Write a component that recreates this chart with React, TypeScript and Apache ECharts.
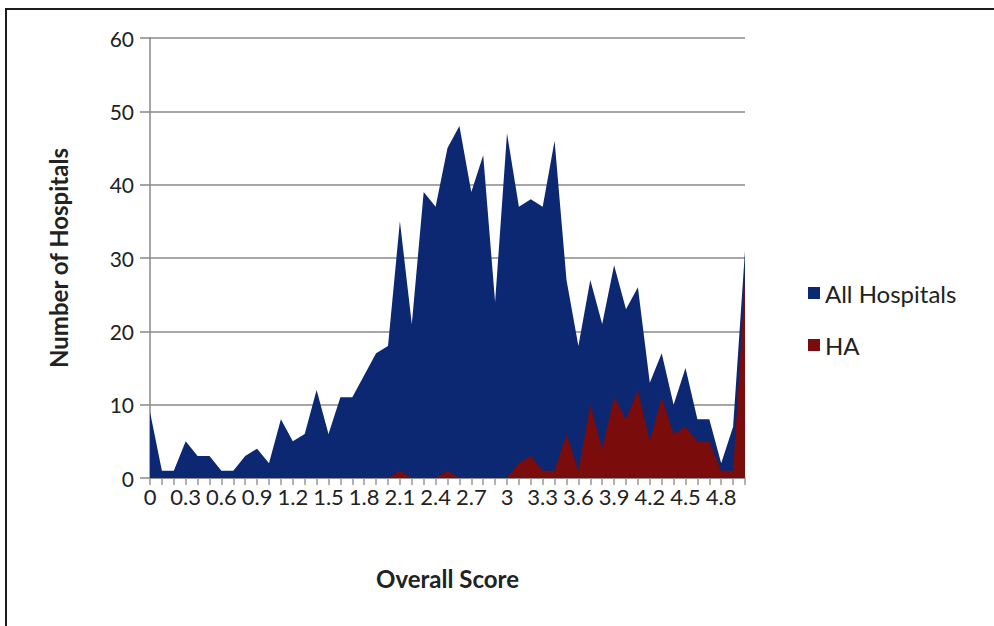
import React, { useEffect, useRef } from "react";
import * as echarts from "echarts";

const categories = [
  "0", "0.1", "0.2", "0.3", "0.4", "0.5", "0.6", "0.7", "0.8", "0.9",
  "1", "1.1", "1.2", "1.3", "1.4", "1.5", "1.6", "1.7", "1.8", "1.9",
  "2", "2.1", "2.2", "2.3", "2.4", "2.5", "2.6", "2.7", "2.8", "2.9",
  "3", "3.1", "3.2", "3.3", "3.4", "3.5", "3.6", "3.7", "3.8", "3.9",
  "4", "4.1", "4.2", "4.3", "4.4", "4.5", "4.6", "4.7", "4.8", "4.9",
  "5",
];

const allHospitals = [
  9, 1, 1, 5, 3, 3, 1, 1, 3, 4,
  2, 8, 5, 6, 12, 6, 11, 11, 14, 17,
  18, 35, 21, 39, 37, 45, 48, 39, 44, 24,
  47, 37, 38, 37, 46, 27, 18, 27, 21, 29,
  23, 26, 13, 17, 10, 15, 8, 8, 2, 7,
  31,
];

const ha = [
  0, 0, 0, 0, 0, 0, 0, 0, 0, 0,
  0, 0, 0, 0, 0, 0, 0, 0, 0, 0,
  0, 1, 0, 0, 0, 1, 0, 0, 0, 0,
  0, 2, 3, 1, 1, 6, 1, 10, 4, 11,
  8, 12, 5, 11, 6, 7, 5, 5, 1, 1,
  27,
];

const FONT = "Lato, 'Open Sans', sans-serif";

export default function App() {
  const ref = useRef<HTMLDivElement>(null);

  useEffect(() => {
    document.body.style.margin = "0";
    const chart = echarts.init(ref.current!, null, { renderer: "svg" });
    chart.setOption({
      animation: false,
      backgroundColor: "#ffffff",
      textStyle: { fontFamily: FONT },
      graphic: [
        {
          type: "rect",
          shape: { x: 6, y: 9, width: 1100, height: 700 },
          style: { fill: "none", stroke: "#1c1c1c", lineWidth: 2 },
          silent: true,
        },
      ],
      legend: {
        orient: "vertical",
        left: 803,
        top: 276,
        itemGap: 28,
        itemWidth: 12,
        itemHeight: 12,
        icon: "rect",
        textStyle: { fontSize: 24, color: "#222", fontFamily: FONT },
        data: ["All Hospitals", "HA"],
      },
      grid: { left: 150, right: 249, top: 38, bottom: 148 },
      xAxis: {
        type: "category",
        data: categories,
        boundaryGap: false,
        name: "Overall Score",
        nameLocation: "middle",
        nameGap: 88,
        nameTextStyle: { fontSize: 24, fontWeight: "bold", color: "#222", fontFamily: FONT },
        axisLine: { show: true, lineStyle: { color: "#888", width: 1.5 } },
        axisTick: { show: true, interval: 0, length: 7, lineStyle: { color: "#999", width: 1.5 } },
        axisLabel: { interval: 2, fontSize: 22, color: "#222", margin: 7, fontFamily: FONT },
        splitLine: { show: false },
      },
      yAxis: {
        type: "value",
        min: 0,
        max: 60,
        interval: 10,
        name: "Number of Hospitals",
        nameLocation: "middle",
        nameGap: 80,
        nameTextStyle: { fontSize: 24, fontWeight: "bold", color: "#222", fontFamily: FONT },
        axisLine: { show: true, lineStyle: { color: "#888", width: 1.5 } },
        axisTick: { show: true, length: 10, inside: false, lineStyle: { color: "#888", width: 1.5 } },
        axisLabel: { fontSize: 21, color: "#222", margin: 16, fontFamily: FONT },
        splitLine: { show: true, lineStyle: { color: "#8a8a8a", width: 1.5 } },
      },
      series: [
        {
          name: "All Hospitals",
          type: "line",
          data: allHospitals,
          showSymbol: false,
          symbol: "none",
          itemStyle: { color: "#0c2873" },
          lineStyle: { width: 0, color: "#0c2873" },
          areaStyle: { color: "#0c2873", opacity: 1 },
          z: 2,
        },
        {
          name: "HA",
          type: "line",
          data: ha,
          showSymbol: false,
          symbol: "none",
          itemStyle: { color: "#7a0c0c" },
          lineStyle: { width: 0, color: "#7a0c0c" },
          areaStyle: { color: "#7a0c0c", opacity: 1 },
          z: 3,
        },
      ],
    });
    return () => chart.dispose();
  }, []);

  return <div ref={ref} style={{ width: 994, height: 626 }} />;
}
